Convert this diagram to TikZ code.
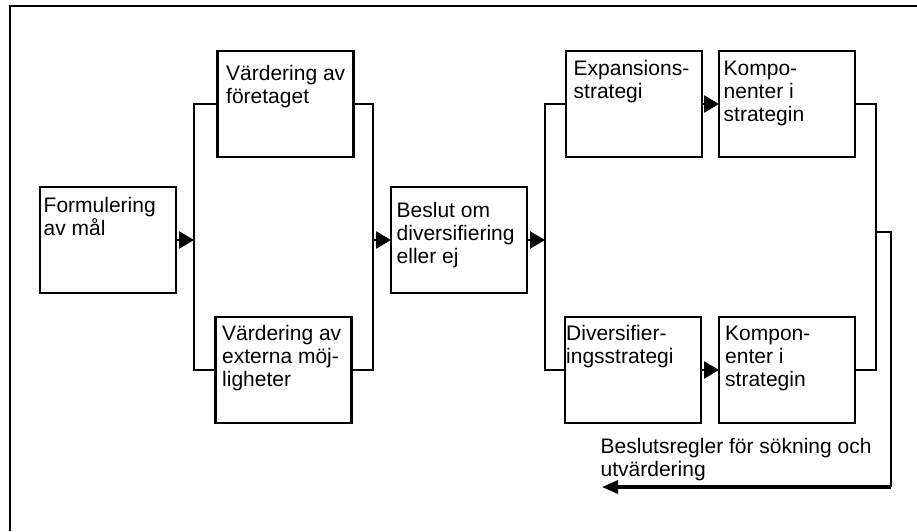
\documentclass[tikz,border=0pt]{standalone}
\usepackage{fontspec}
\setmainfont{Liberation Sans}
\usetikzlibrary{arrows.meta}

\tikzset{
  box/.style={draw, line width=2.6pt, minimum width=136pt, minimum height=106pt, inner sep=0pt, outer sep=0pt},
  txt/.style={anchor=north west, inner sep=0pt, align=left, font=\fontsize{21}{23}\selectfont},
  conn/.style={line width=2.6pt},
  arr/.style={line width=2.6pt, -{Triangle[length=15pt,width=17pt]}},
  fbline/.style={line width=1.6pt},
  fbarr/.style={line width=3.2pt, -{Triangle[length=16pt,width=13pt]}},
}
\newcommand{\topstrut}{\rule{0pt}{17pt}}

\begin{document}
\begin{tikzpicture}[x=1pt,y=-1pt]
\useasboundingbox (0,0) rectangle (917,531);
% frame, cut off at right and bottom
\draw[line width=2.6pt] (917,6) -- (10,6) -- (10,531);
% boxes
\node[box] (mal) at (108,240) {};
\node[box] (vf) at (285.5,104) {};
\node[box] (ve) at (283.5,370) {};
\node[box] (beslut) at (459,240) {};
\node[box] (exp) at (634,104) {};
\node[box] (kexp) at (787,104) {};
\node[box] (div) at (633,370) {};
\node[box] (kdiv) at (787,370) {};
% texts in the boxes
\node[txt] (malt) at (43.5,195) {\topstrut Formulering\\av mål};
\node[txt] (vft) at (226,63) {\topstrut Värdering av\\företaget};
\node[txt] (vet) at (222,323) {\topstrut Värdering av\\externa möj-\\ligheter};
\node[txt] (beslutt) at (396.5,200) {\topstrut Beslut om\\diversifiering\\eller ej};
\node[txt] (expt) at (573.5,58) {\topstrut Expansions-\\strategi};
\node[txt] (kexpt) at (723.5,58) {\topstrut Kompo-\\nenter i\\strategin};
\node[txt] (divt) at (566,323) {\topstrut Diversifier-\\ingsstrategi};
\node[txt] (kdivt) at (725,323) {\topstrut Kompon-\\enter i\\strategin};
% branch points
\coordinate (b1) at (194,240);
\coordinate (b2) at (373,240);
\coordinate (b3) at (545,240);
\coordinate (b4) at (876,232);
% connectors
\draw[arr] (mal.east) -- (b1);
\draw[conn] (vf.west) -| (b1) |- (ve.west);
\draw[conn] (vf.east) -| (b2) |- (ve.east);
\draw[arr] (b2) -- (beslut.west);
\draw[arr] (beslut.east) -- (b3);
\draw[conn] (exp.west) -| (b3) |- (div.west);
\draw[arr] (exp.east) -- (kexp.west);
\draw[arr] (div.east) -- (kdiv.west);
\draw[conn] (kexp.east) -| (b4) |- (kdiv.east);
% feedback
\coordinate (fb1) at (891,232);
\coordinate (fb2) at (891,487);
\coordinate (fbend) at (602,487);
\draw[fbline] (b4) -- (fb1) -- (fb2);
\draw[fbarr] (fb2) -- (fbend);
\node[txt] (fbt) at (600.5,436) {\topstrut Beslutsregler för sökning och\\utvärdering};
\end{tikzpicture}
\end{document}
